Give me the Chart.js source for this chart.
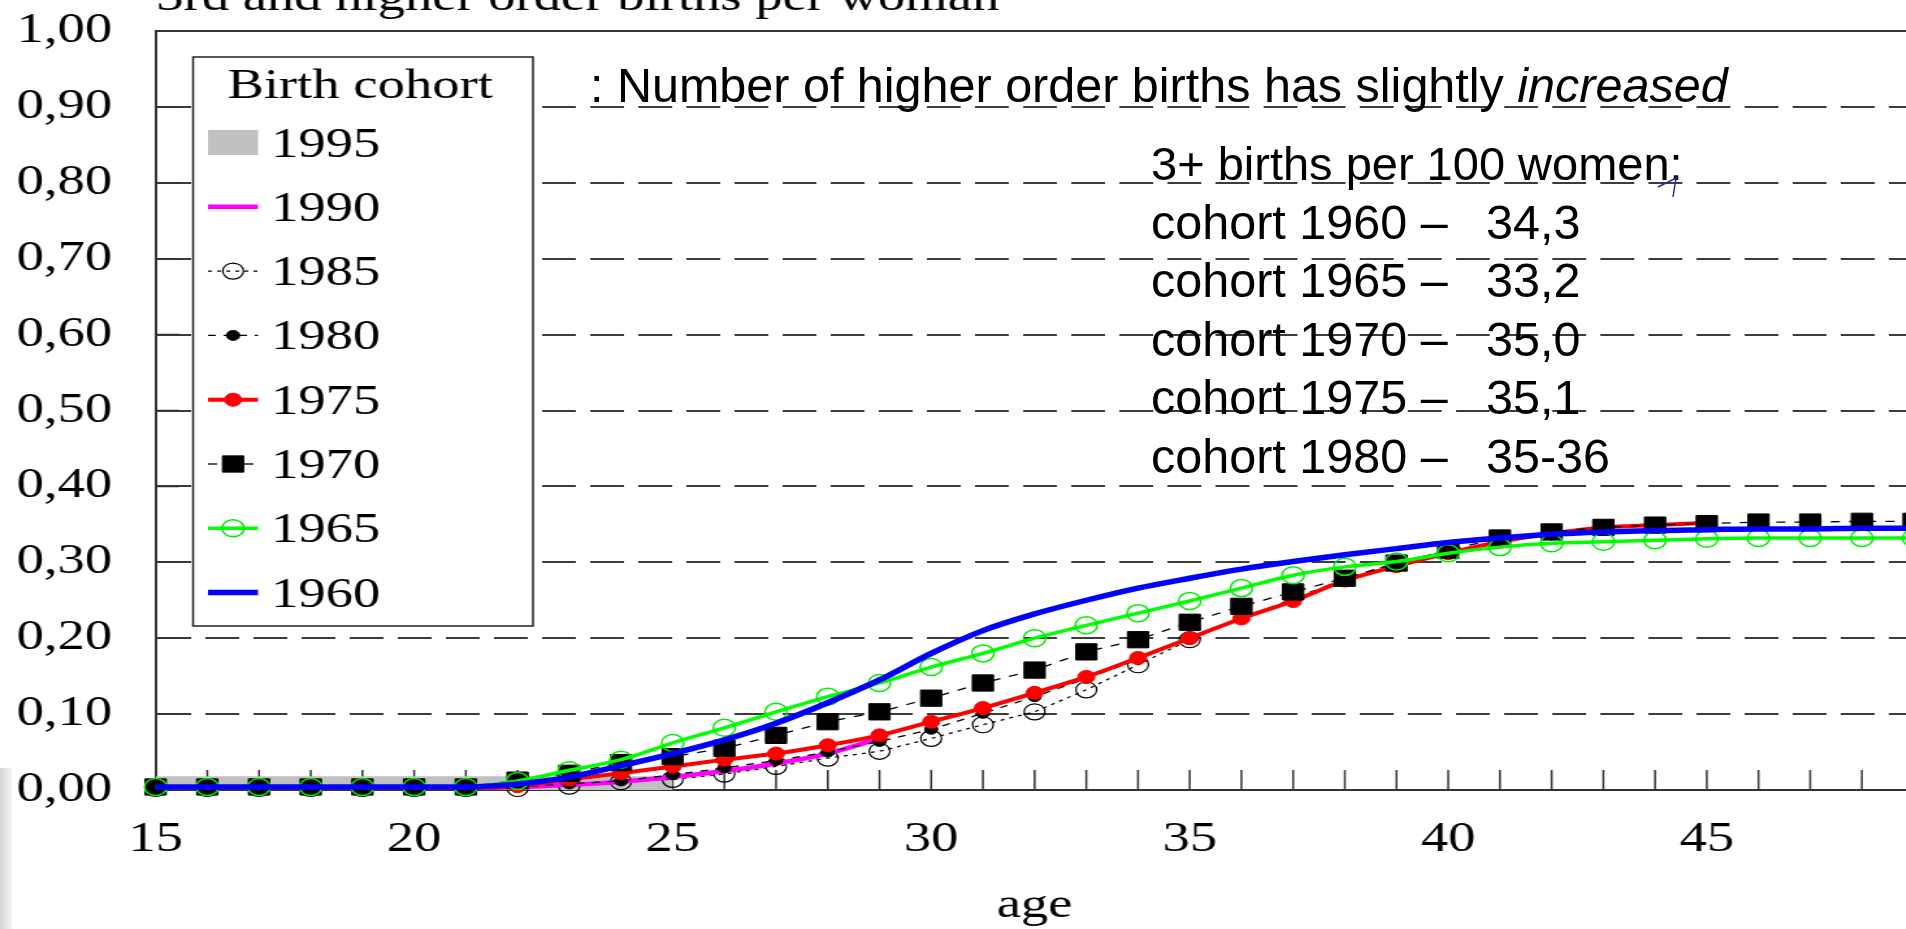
<!DOCTYPE html>
<html>
<head>
<meta charset="utf-8">
<title>3rd and higher order births per woman</title>
<script src="https://cdn.jsdelivr.net/npm/chart.js@4/dist/chart.umd.min.js"></script>
<style>
  html, body { margin: 0; padding: 0; background: #fff; overflow: hidden; }
  body { width: 1906px; height: 929px; position: relative; }
  /* the source picture is stretched sideways, so the chart is too */
  #wrap { position: absolute; left: 0; top: 0; width: 1472px; height: 929px; transform: scaleX(1.3); transform-origin: 0 0; }
  .note { position: absolute; font-family: "Liberation Sans", Arial, sans-serif; font-size: 48.5px; line-height: 48.5px; color: #000; white-space: nowrap; }
  #edge { position: absolute; left: 0; top: 768px; width: 12px; height: 161px; background: linear-gradient(to right, #d6d6d6, #f3f3f3); }
  #pen { position: absolute; left: 0; top: 0; }
</style>
</head>
<body>
<div id="wrap"><canvas id="chart"></canvas></div>
<div class="note" style="left:590px; top:61px">: Number of higher order births has slightly <i>increased</i></div>
<div id="notes"></div>
<svg id="pen" width="1906" height="929"><polyline points="1658,187 1676,178 1673,197" fill="none" stroke="#2b2b9c" stroke-width="1.5"/></svg>
<div id="edge"></div>
<script>
const ages = [15, 16, 17, 18, 19, 20, 21, 22, 23, 24, 25, 26, 27, 28, 29, 30, 31, 32,
  33, 34, 35, 36, 37, 38, 39, 40, 41, 42, 43, 44, 45, 46, 47, 48, 49];

// values start at age 15, each series stops where the cohort data ends
const c1995 = [0.018, 0.018, 0.018, 0.018, 0.018, 0.018, 0.018, 0.018, 0.018, 0.018, 0.018];
const c1990 = [0.003, 0.003, 0.003, 0.003, 0.003, 0.003, 0.003, 0.004, 0.007, 0.011, 0.017,
  0.025, 0.035, 0.048, 0.068];
const c1985 = [0.002, 0.002, 0.002, 0.002, 0.002, 0.002, 0.002, 0.002, 0.005, 0.011, 0.014,
  0.021, 0.031, 0.042, 0.051, 0.068, 0.086, 0.103, 0.132, 0.165, 0.198];
const c1980 = [0.003, 0.003, 0.003, 0.003, 0.003, 0.003, 0.003, 0.004, 0.008, 0.012, 0.020,
  0.029, 0.039, 0.050, 0.064, 0.080, 0.101, 0.123, 0.147, 0.172, 0.199, 0.226, 0.252, 0.278,
  0.299, 0.316];
const c1975 = [0.003, 0.003, 0.003, 0.003, 0.003, 0.003, 0.003, 0.005, 0.014, 0.022, 0.031,
  0.040, 0.048, 0.059, 0.072, 0.090, 0.108, 0.128, 0.149, 0.174, 0.200, 0.226, 0.249, 0.276,
  0.295, 0.312, 0.327, 0.338, 0.346, 0.349, 0.352];
const c1970 = [0.004, 0.004, 0.004, 0.004, 0.004, 0.004, 0.004, 0.013, 0.022, 0.036, 0.044,
  0.055, 0.072, 0.090, 0.103, 0.121, 0.141, 0.158, 0.182, 0.198, 0.221, 0.242, 0.261, 0.279,
  0.299, 0.316, 0.332, 0.340, 0.346, 0.349, 0.351, 0.353, 0.353, 0.354, 0.354];
const c1965 = [0.004, 0.004, 0.004, 0.004, 0.004, 0.004, 0.004, 0.012, 0.026, 0.040, 0.062,
  0.082, 0.103, 0.123, 0.141, 0.162, 0.180, 0.200, 0.217, 0.233, 0.249, 0.266, 0.283, 0.294,
  0.301, 0.312, 0.320, 0.325, 0.327, 0.329, 0.331, 0.332, 0.332, 0.332, 0.332];
const c1960 = [0.004, 0.004, 0.004, 0.004, 0.004, 0.004, 0.004, 0.008, 0.017, 0.032, 0.048,
  0.066, 0.088, 0.115, 0.145, 0.180, 0.210, 0.232, 0.250, 0.266, 0.279, 0.291, 0.301, 0.310,
  0.318, 0.326, 0.332, 0.337, 0.340, 0.342, 0.343, 0.344, 0.344, 0.345, 0.345];

const noteCohorts = ["1960", "1965", "1970", "1975", "1980"];
const noteValues = ["34,3", "33,2", "35,0", "35,1", "35-36"];

const titleText = "3rd and higher order births per woman";
const serif = "'Liberation Serif', 'Times New Roman', serif";

function pts(arr) {
  return arr.map((v, i) => ({ x: ages[i], y: v }));
}

// annotation text block
const notes = document.getElementById("notes");
let html = '<div class="note" style="left:1151px; top:140px; font-size:47px; line-height:47px">3+ births per 100 women:</div>';
noteCohorts.forEach((c, i) => {
  const top = 139 + 58.5 * (i + 1);
  html += `<div class="note" style="left:1151px; top:${top}px">cohort ${c} \u2013</div>`;
  html += `<div class="note" style="left:1486px; top:${top}px">${noteValues[i]}</div>`;
});
notes.innerHTML = html;

function drawMarker(ctx, ds, cx, cy) {
  const r = ds.pointRadius;
  if (!r) return;
  ctx.save();
  ctx.setLineDash([]);
  ctx.lineWidth = ds.pointBorderWidth;
  ctx.strokeStyle = ds.pointBorderColor;
  ctx.fillStyle = ds.pointBackgroundColor;
  ctx.beginPath();
  if (ds.pointStyle === "rect") {
    const s = r * Math.SQRT1_2;
    ctx.rect(cx - s, cy - s, 2 * s, 2 * s);
  } else {
    ctx.arc(cx, cy, r, 0, Math.PI * 2);
  }
  ctx.fill();
  ctx.stroke();
  ctx.restore();
}

const extras = {
  id: "extras",
  beforeDatasetsDraw(chart) {
    const { ctx, chartArea: a, scales: { x, y } } = chart;
    ctx.save();
    ctx.strokeStyle = "#333";
    ctx.lineWidth = 2;
    ctx.beginPath();
    ctx.moveTo(a.left, a.top);
    ctx.lineTo(chart.width, a.top);
    ctx.stroke();

    // inward ticks
    ctx.lineWidth = 1.5;
    ctx.beginPath();
    ages.forEach(age => {
      if (age === 15) return;
      const px = x.getPixelForValue(age);
      ctx.moveTo(px, a.bottom);
      ctx.lineTo(px, a.bottom - 20);
    });
    y.ticks.forEach(t => {
      const py = y.getPixelForValue(t.value);
      ctx.moveTo(a.left, py);
      ctx.lineTo(a.left + 18, py);
    });
    ctx.stroke();
    ctx.restore();
  },
  afterDraw(chart) {
    const { ctx, chartArea: a } = chart;
    ctx.save();
    ctx.fillStyle = "#000";
    ctx.font = "42px " + serif;
    ctx.textAlign = "left";
    ctx.textBaseline = "alphabetic";
    ctx.fillText(titleText, a.left + 0.5, 10);

    // legend box
    const bx = 148.5, by = 57, bw = 261.5, bh = 569;
    ctx.fillStyle = "#fff";
    ctx.fillRect(bx, by, bw, bh);
    ctx.strokeStyle = "#222";
    ctx.lineWidth = 1.5;
    ctx.strokeRect(bx, by, bw, bh);

    ctx.fillStyle = "#000";
    ctx.textAlign = "center";
    ctx.fillText("Birth cohort", 277, 98);

    ctx.textAlign = "left";
    chart.data.datasets.forEach((ds, i) => {
      const midY = 142.5 + 64.3 * i;
      if (ds.fill) {
        ctx.fillStyle = ds.backgroundColor;
        ctx.fillRect(160, midY - 12.5, 38.5, 25);
      } else {
        ctx.save();
        ctx.strokeStyle = ds.borderColor;
        ctx.lineWidth = ds.borderWidth;
        ctx.setLineDash(ds.borderDash || []);
        ctx.beginPath();
        ctx.moveTo(160, midY);
        ctx.lineTo(198.5, midY);
        ctx.stroke();
        ctx.restore();
        drawMarker(ctx, ds, 179.3, midY);
      }
      ctx.fillStyle = "#000";
      ctx.fillText(ds.label, 208.5, midY + 14);
    });
    ctx.restore();
  }
};

new Chart(document.getElementById("chart"), {
  type: "line",
  data: {
    datasets: [
      {
        label: "1995", data: pts(c1995), order: 8,
        fill: "origin", backgroundColor: "#c0c0c0",
        borderColor: "rgba(0,0,0,0)", borderWidth: 0, pointRadius: 0
      },
      {
        label: "1990", data: pts(c1990), order: 6, clip: false,
        borderColor: "#ff00ff", borderWidth: 4.5, pointRadius: 0,
        cubicInterpolationMode: "monotone"
      },
      {
        label: "1985", data: pts(c1985), order: 7, clip: false,
        borderColor: "#000", borderWidth: 1.3, borderDash: [3, 4],
        pointStyle: "circle", pointRadius: 8, pointBorderWidth: 1.2,
        pointBorderColor: "#000", pointBackgroundColor: "rgba(255,255,255,0)"
      },
      {
        label: "1980", data: pts(c1980), order: 5, clip: false,
        borderColor: "#000", borderWidth: 1.3, borderDash: [6, 6],
        pointStyle: "circle", pointRadius: 5, pointBorderWidth: 1,
        pointBorderColor: "#000", pointBackgroundColor: "#000"
      },
      {
        label: "1975", data: pts(c1975), order: 4, clip: false,
        borderColor: "#ff0000", borderWidth: 4, cubicInterpolationMode: "monotone",
        pointStyle: "circle", pointRadius: 6.5, pointBorderWidth: 1,
        pointBorderColor: "#ff0000", pointBackgroundColor: "#ff0000"
      },
      {
        label: "1970", data: pts(c1970), order: 3, clip: false,
        borderColor: "#000", borderWidth: 1.3, borderDash: [7, 7],
        pointStyle: "rect", pointRadius: 11.5, pointBorderWidth: 1,
        pointBorderColor: "#000", pointBackgroundColor: "#000"
      },
      {
        label: "1965", data: pts(c1965), order: 2, clip: false,
        borderColor: "#00ff00", borderWidth: 3.5, cubicInterpolationMode: "monotone",
        pointStyle: "circle", pointRadius: 8.5, pointBorderWidth: 1.5,
        pointBorderColor: "#00ee00", pointBackgroundColor: "rgba(255,255,255,0)"
      },
      {
        label: "1960", data: pts(c1960), order: 1, clip: false,
        borderColor: "#0000ff", borderWidth: 5.5, pointRadius: 0,
        cubicInterpolationMode: "monotone"
      }
    ]
  },
  options: {
    responsive: true,
    maintainAspectRatio: false,
    animation: false,
    layout: { autoPadding: false, padding: { top: 31, left: 0, right: 0, bottom: 0 } },
    plugins: { legend: { display: false }, tooltip: { enabled: false } },
    scales: {
      x: {
        type: "linear", min: 15, max: 49,
        ticks: {
          stepSize: 1, autoSkip: false, maxRotation: 0, padding: 25, color: "#000",
          font: { family: serif, size: 42 },
          callback: v => (v % 5 === 0 ? String(v) : "")
        },
        grid: { drawOnChartArea: false, drawTicks: false },
        border: { color: "#333", width: 2 },
        title: {
          display: true, text: "age", color: "#000",
          font: { family: serif, size: 42, lineHeight: 1 },
          padding: { top: 0, bottom: 2 }
        },
        afterFit: s => {
          s.height = 139;
          s.paddingLeft = 0;
          s.paddingRight = 0;
        }
      },
      y: {
        min: 0, max: 1,
        ticks: {
          stepSize: 0.1, padding: 33.5, color: "#000",
          font: { family: serif, size: 42 },
          callback: v => v.toFixed(2).replace(".", ",")
        },
        grid: {
          drawTicks: false, lineWidth: 2,
          color: c => {
            const v = c.tick ? c.tick.value : 0.5;
            return (Math.abs(v) < 1e-6 || Math.abs(v - 1) < 1e-6) ? "rgba(0,0,0,0)" : "#3c3c3c";
          }
        },
        border: { color: "#333", width: 2, dash: [26, 11] },
        afterFit: s => {
          s.width = 119.7;
          s.paddingTop = 0;
          s.paddingBottom = 0;
        }
      }
    }
  },
  plugins: [extras]
});
</script>
</body>
</html>
